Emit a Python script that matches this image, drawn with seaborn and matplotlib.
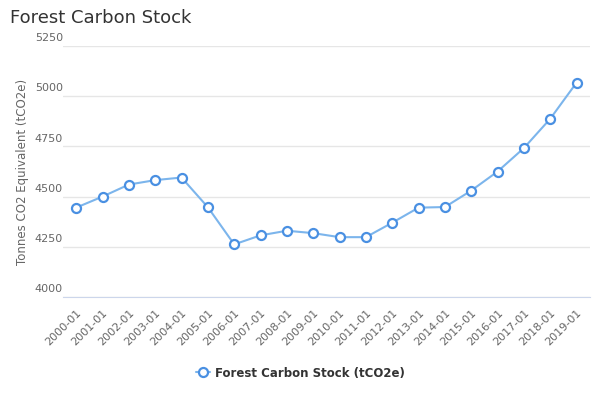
import pandas as pd
import seaborn as sns
import matplotlib
matplotlib.use('Agg')
import matplotlib.pyplot as plt
import matplotlib.transforms as mtransforms

months = ['2000-01', '2001-01', '2002-01', '2003-01', '2004-01', '2005-01', '2006-01',
          '2007-01', '2008-01', '2009-01', '2010-01', '2011-01', '2012-01', '2013-01',
          '2014-01', '2015-01', '2016-01', '2017-01', '2018-01', '2019-01']
stock = [4445, 4500, 4560, 4582, 4595, 4447, 4262, 4307, 4330, 4318,
         4298, 4298, 4370, 4445, 4448, 4530, 4625, 4742, 4888, 5068]
y_ticks = [4000, 4250, 4500, 4750, 5000, 5250]
series_name = 'Forest Carbon Stock (tCO2e)'

df = pd.DataFrame({'month': months, 'stock': stock})
df['pos'] = range(len(months))

sns.set_style('white')
plt.rcParams['font.family'] = ['DejaVu Sans']

fig = plt.figure(figsize=(6, 4), dpi=100)
ax = fig.add_axes([0.105, 0.2575, 0.878, 0.6275])

line_color = '#7cb5ec'
edge_color = '#4a90e2'
sns.lineplot(data=df, x='pos', y='stock', ax=ax, color=line_color, linewidth=1.5,
             marker='o', markersize=6.5, markerfacecolor='white',
             markeredgecolor=edge_color, markeredgewidth=1.6, label=series_name)

ax.set_xlim(-0.5, len(months) - 0.5)
ax.set_ylim(4000, 5250)
ax.set_yticks(y_ticks)
ax.set_yticklabels([str(v) for v in y_ticks])
ax.set_xticks(df['pos'])
ax.set_xticklabels(months, rotation=45, ha='right', rotation_mode='anchor')

ax.grid(axis='y', color='#e6e6e6', linewidth=1)
ax.set_axisbelow(True)
for s in ['top', 'right', 'left']:
    ax.spines[s].set_visible(False)
ax.spines['bottom'].set_color('#ccd6eb')

ax.tick_params(axis='y', length=0, pad=0, labelsize=8, labelcolor='#666666')
ax.tick_params(axis='x', length=5, color='#ccd6eb', pad=3, labelsize=8, labelcolor='#666666')

# labels sit just above the gridlines
offset = mtransforms.ScaledTranslation(0, 2 / 72, fig.dpi_scale_trans)
for lab in ax.get_yticklabels():
    lab.set_va('bottom')
    lab.set_transform(lab.get_transform() + offset)

ax.set_xlabel('')
ax.set_ylabel('Tonnes CO2 Equivalent (tCO2e)', fontsize=8.5, color='#666666', labelpad=4)

fig.text(10 / 600, 1 - 18 / 400, 'Forest Carbon Stock', fontsize=13, color='#333333',
         ha='left', va='center')

leg = ax.legend(loc='center', bbox_to_anchor=(0.5, 27 / 400), bbox_transform=fig.transFigure,
                frameon=False, fontsize=8.5, handlelength=1.2, handletextpad=0.4)
for t in leg.get_texts():
    t.set_fontweight('bold')
    t.set_color('#333333')

fig.savefig('out.png', dpi=100)
